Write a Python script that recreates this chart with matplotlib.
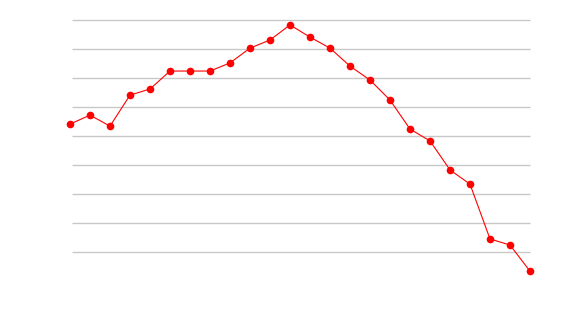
import matplotlib
matplotlib.use("Agg")
import matplotlib.pyplot as plt

x_index = list(range(24))
values = [5.41, 5.72, 5.34, 6.41, 6.62, 7.24, 7.24, 7.24, 7.52, 8.03, 8.31, 8.83,
          8.41, 8.03, 7.41, 6.93, 6.24, 5.24, 4.83, 3.83, 3.34, 1.45, 1.24, 0.34]
grid_levels = [1, 2, 3, 4, 5, 6, 7, 8, 9]

fig = plt.figure(figsize=(5.7, 3.2), dpi=100)
ax = fig.add_axes([70 / 570, 39 / 320, 460 / 570, 261 / 320])
ax.set_xlim(0, 23)
ax.set_ylim(0, 9)
ax.hlines(grid_levels, 0.1, 23, colors="#c8c8c8", linewidth=1.0, clip_on=False, zorder=1)
ax.plot(x_index, values, color="red", linewidth=0.8, marker="o", markersize=5.5,
        markeredgewidth=0, clip_on=False, zorder=3)
for s in ax.spines.values():
    s.set_visible(False)
ax.set_xticks([])
ax.set_yticks([])
fig.savefig("out.png", dpi=100)
